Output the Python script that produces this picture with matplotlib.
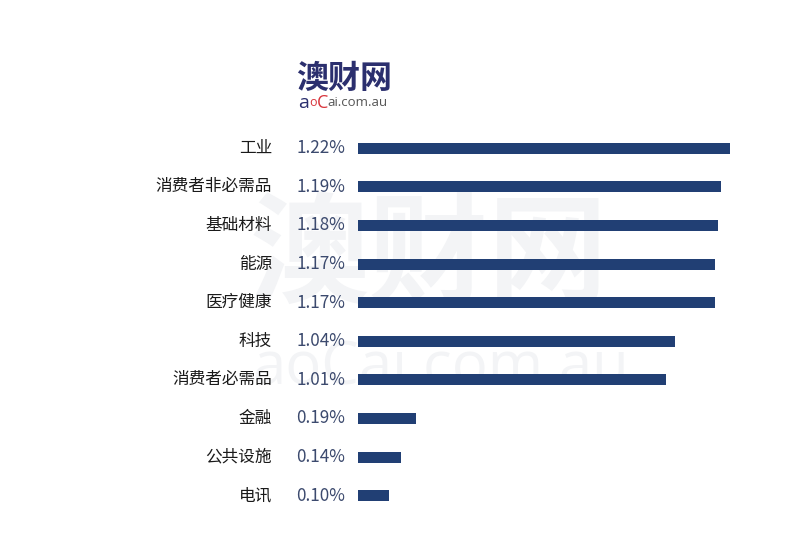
import matplotlib
matplotlib.use("Agg")
import matplotlib.pyplot as plt

plt.rcParams['font.family'] = ['Noto Sans CJK SC', 'DejaVu Sans']

categories = ["工业", "消费者非必需品", "基础材料", "能源", "医疗健康",
              "科技", "消费者必需品", "金融", "公共设施", "电讯"]
values = [1.22, 1.19, 1.18, 1.17, 1.17, 1.04, 1.01, 0.19, 0.14, 0.10]
value_labels = ["1.22%", "1.19%", "1.18%", "1.17%", "1.17%",
                "1.04%", "1.01%", "0.19%", "0.14%", "0.10%"]

W, H = 800, 550
fig = plt.figure(figsize=(8, 5.5), dpi=100)
fig.patch.set_facecolor('white')

# watermark in a background axes
bg = fig.add_axes([0, 0, 1, 1], zorder=-10)
bg.set_xlim(0, W)
bg.set_ylim(H, 0)
bg.axis('off')
bg.text(250, 258, "澳财网", fontsize=86, fontweight='bold',
        color='#f3f4f6', ha='left', va='center')
bg.text(252, 368, "aoCai.com.au", fontsize=43,
        color='#f3f4f6', ha='left', va='center',
        family=['Open Sans', 'DejaVu Sans'])

ax_left, ax_right = 358, 760
ax_top, ax_bottom = 129, 515
ax = fig.add_axes([ax_left / W, 1 - ax_bottom / H,
                   (ax_right - ax_left) / W, (ax_bottom - ax_top) / H], zorder=5)
ax.set_facecolor('none')
n = len(categories)
ypos = list(range(n))
ax.barh(ypos, values, height=0.29, color='#213f74', zorder=3)
ax.set_xlim(0, (ax_right - ax_left) / 305.0)
ax.set_ylim(n - 0.5, -0.5)
ax.axis('off')

for i in range(n):
    ax.annotate(categories[i], xy=(0, i), xytext=(-86, 0), textcoords='offset pixels',
                ha='right', va='center', fontsize=12, color='#1a1a1a',
                annotation_clip=False)
    ax.annotate(value_labels[i], xy=(0, i), xytext=(-62, 0), textcoords='offset pixels',
                ha='left', va='center', fontsize=12.3, color='#3c4a6e',
                annotation_clip=False)

# logo
fig.text(296 / W, 1 - 79 / H, "澳财网", fontsize=23, fontweight='bold',
         color='#2b2f6e', ha='left', va='center')
lx = 298 / W
ly = 1 - 103 / H
t1 = fig.text(lx, ly, "a", fontsize=14, color='#2b2f6e', ha='left', va='center',
              family=['Open Sans', 'DejaVu Sans'])
fig.canvas.draw()
r = fig.canvas.get_renderer()
def nxt(t, s, **kw):
    bb = t.get_window_extent(renderer=r)
    return fig.text(bb.x1 / W, ly, s, ha='left', va='center',
                    family=['Open Sans', 'DejaVu Sans'], **kw)
t2 = nxt(t1, "o", fontsize=9, color='#d8343b')
t3 = nxt(t2, "C", fontsize=13, color='#d8343b')
t4 = nxt(t3, "ai.com.au", fontsize=9.5, color='#555555')

fig.savefig("out.png", dpi=100, facecolor='white')
